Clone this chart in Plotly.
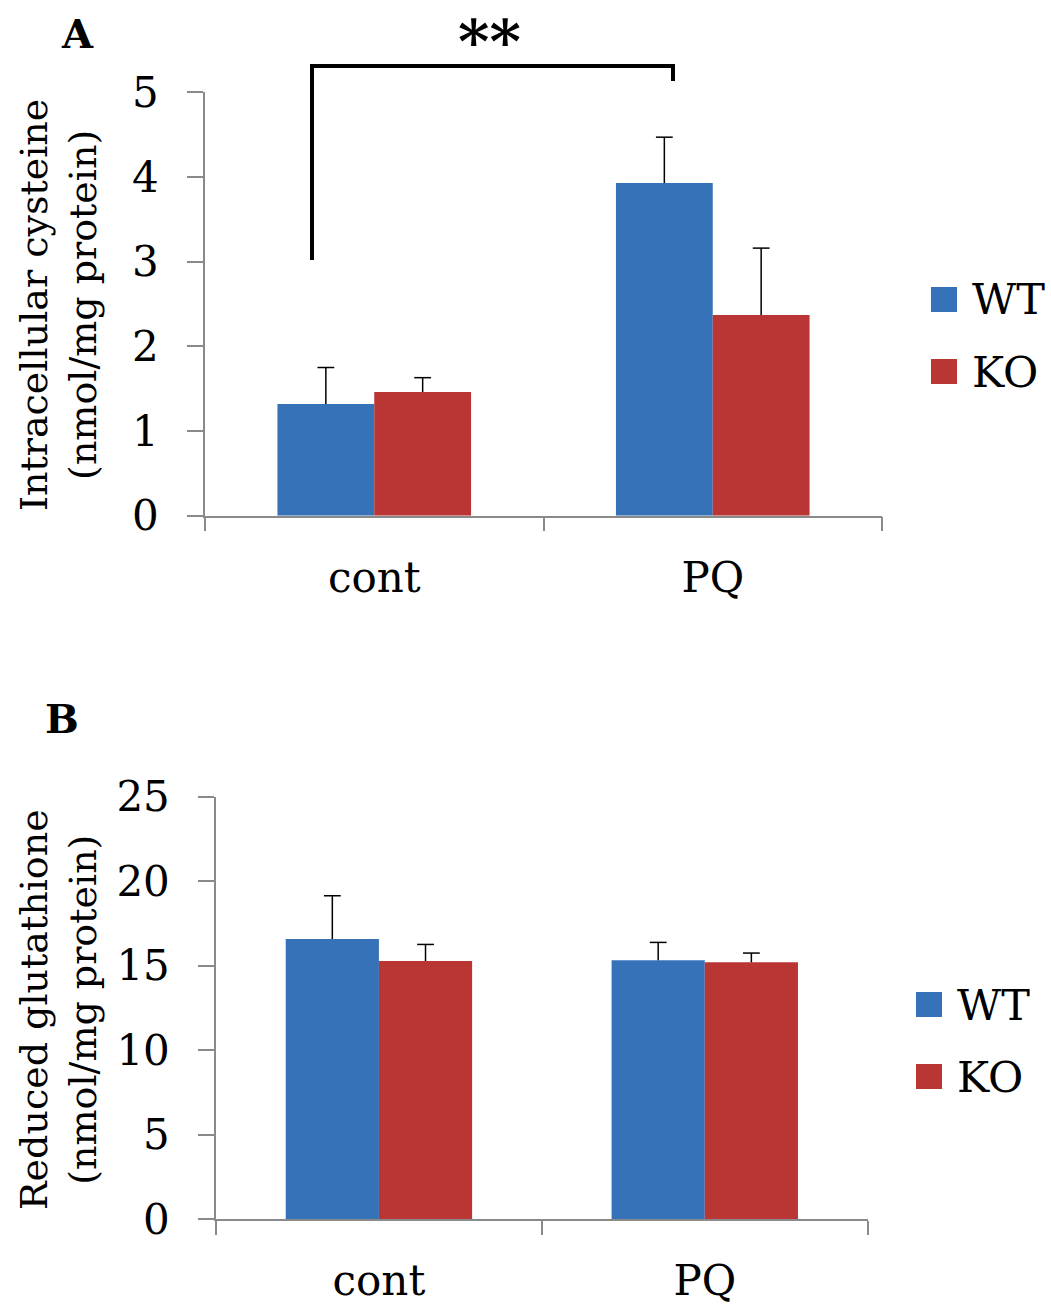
import plotly.graph_objects as go

# ---------------- data ----------------
categories = ["cont", "PQ"]
series = ["WT", "KO"]

cys_wt = [1.32, 3.93]
cys_ko = [1.46, 2.37]
cys_wt_err = [0.43, 0.54]
cys_ko_err = [0.17, 0.79]

gsh_wt = [16.58, 15.33]
gsh_ko = [15.28, 15.20]
gsh_wt_err = [2.56, 1.05]
gsh_ko_err = [0.98, 0.55]

cys_ticks = [0, 1, 2, 3, 4, 5]
gsh_ticks = [0, 5, 10, 15, 20, 25]

title_a = "Intracellular cysteine<br>(nmol/mg protein)"
title_b = "Reduced glutathione<br>(nmol/mg protein)"
sig_label = "**"

# ---------------- style ----------------
W, H = 1051, 1308
FONT = "DejaVu Serif"
COLORS = {"WT": "#3672B8", "KO": "#BA3634"}
AXCOL = "#8a8a8a"
GAP = 0.428


def px_x(v):
    return v / W


def px_y(v):
    return 1 - v / H


fig = go.Figure()

panels = [
    ("x", "y", {"WT": (cys_wt, cys_wt_err), "KO": (cys_ko, cys_ko_err)}),
    ("x2", "y2", {"WT": (gsh_wt, gsh_wt_err), "KO": (gsh_ko, gsh_ko_err)}),
]

for xa, ya, data in panels:
    for name in series:
        vals, errs = data[name]
        fig.add_trace(go.Bar(
            x=categories, y=vals, name=name, xaxis=xa, yaxis=ya,
            offsetgroup=name, showlegend=False,
            marker=dict(color=COLORS[name], line=dict(width=0)),
            error_y=dict(type="data", symmetric=False, array=errs,
                         color="black", thickness=1.5, width=0),
        ))
        fig.add_trace(go.Scatter(
            x=categories, y=[v + e for v, e in zip(vals, errs)],
            xaxis=xa, yaxis=ya, mode="markers", offsetgroup=name,
            showlegend=False, hoverinfo="skip", cliponaxis=False,
            marker=dict(symbol="line-ew", size=12, color="black",
                        line=dict(width=1.5, color="black")),
        ))

axis_common = dict(
    showline=True, linecolor=AXCOL, linewidth=1.5,
    ticks="outside", tickcolor=AXCOL, tickwidth=1.5,
    showgrid=False, zeroline=False, fixedrange=True, automargin=False,
    tickfont=dict(family=FONT, size=42, color="black"),
)

fig.update_layout(
    template="none",
    width=W, height=H,
    margin=dict(l=0, r=0, t=0, b=0, pad=0, autoexpand=False),
    paper_bgcolor="white", plot_bgcolor="white",
    barmode="group", bargap=GAP, bargroupgap=0,
    scattermode="group", scattergap=GAP,
    showlegend=False,
    xaxis=dict(domain=[px_x(205), px_x(882)], anchor="y",
               tickson="boundaries", ticklen=14, ticklabelstandoff=24,
               **axis_common),
    yaxis=dict(domain=[px_y(515.7), px_y(92.3)], anchor="x",
               range=[0, 5], tickvals=cys_ticks, ticklen=16,
               ticklabelstandoff=20, **axis_common),
    xaxis2=dict(domain=[px_x(216), px_x(867.7)], anchor="y2",
                tickson="boundaries", ticklen=14, ticklabelstandoff=24,
                **axis_common),
    yaxis2=dict(domain=[px_y(1219.3), px_y(796.7)], anchor="x2",
                range=[0, 25], tickvals=gsh_ticks, ticklen=16,
                ticklabelstandoff=20, **axis_common),
)

annotations = []
# axis titles
for txt, yc in [(title_a, 305), (title_b, 1010)]:
    annotations.append(dict(
        text=txt, textangle=-90, xref="paper", yref="paper",
        x=px_x(58), y=px_y(yc), xanchor="center", yanchor="middle",
        showarrow=False, font=dict(family=FONT, size=38, color="black"),
    ))
# panel letters
for txt, xc, yc in [("A", 77, 33), ("B", 62, 718)]:
    annotations.append(dict(
        text="<b>%s</b>" % txt, xref="paper", yref="paper",
        x=px_x(xc), y=px_y(yc), xanchor="center", yanchor="middle",
        showarrow=False, font=dict(family=FONT, size=40, color="black"),
    ))
# significance stars
annotations.append(dict(
    text="<b>%s</b>" % sig_label, xref="paper", yref="paper",
    x=px_x(489), y=px_y(42), xanchor="center", yanchor="middle",
    showarrow=False, font=dict(family=FONT, size=60, color="black"),
))

# manual legends
shapes = []
for (sx, sy0, tx) in [(931, 287, 970), (916, 992, 955)]:
    for i, name in enumerate(series):
        y0 = sy0 + i * 72
        shapes.append(dict(
            type="rect", xref="paper", yref="paper",
            x0=px_x(sx), x1=px_x(sx + 26), y0=px_y(y0 + 25), y1=px_y(y0),
            fillcolor=COLORS[name], line=dict(width=0),
        ))
        annotations.append(dict(
            text=name, xref="paper", yref="paper",
            x=px_x(tx), y=px_y(y0 + 12.5), xanchor="left", yanchor="middle",
            showarrow=False, font=dict(family=FONT, size=43, color="black"),
        ))

# significance bracket
shapes.append(dict(
    type="path", xref="paper", yref="paper",
    path="M %f %f L %f %f L %f %f L %f %f" % (
        px_x(312), px_y(260), px_x(312), px_y(66),
        px_x(673), px_y(66), px_x(673), px_y(81)),
    line=dict(color="black", width=4),
))

fig.update_layout(annotations=annotations, shapes=shapes)

fig.write_html("out.html")
